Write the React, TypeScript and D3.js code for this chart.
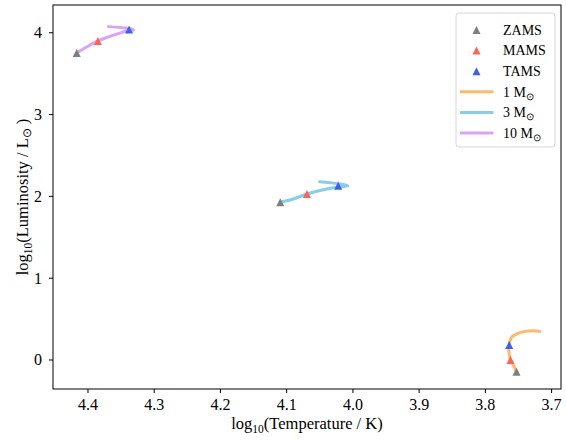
import React from "react";
import * as d3 from "d3";

// ---- data ----
const xTicks = [4.4, 4.3, 4.2, 4.1, 4.0, 3.9, 3.8, 3.7];
const yTicks = [0, 1, 2, 3, 4];

const massLabels = ["1", "3", "10"];
const trackColors = ["#FDB96C", "#88CDEA", "#DCA2F8"];

const track1T = [3.753, 3.7575, 3.762, 3.7645, 3.764, 3.761, 3.752, 3.740, 3.728, 3.7175];
const track1L = [-0.143, -0.067, 0.0, 0.098, 0.183, 0.272, 0.323, 0.350, 0.358, 0.350];

const track3T = [4.1097, 4.090, 4.0694, 4.0463, 4.0222, 4.0116, 4.0075, 4.0166, 4.0342, 4.0504];
const track3L = [1.928, 1.968, 2.029, 2.078, 2.115, 2.124, 2.13, 2.148, 2.167, 2.180];

const track10T = [4.417, 4.402, 4.385, 4.369, 4.351, 4.339, 4.331, 4.336, 4.351, 4.369];
const track10L = [3.753, 3.826, 3.900, 3.949, 3.998, 4.028, 4.035, 4.049, 4.064, 4.075];

const phaseNames = ["ZAMS", "MAMS", "TAMS"];
const phaseColors = ["#7F7F7F", "#FF6352", "#3D63E0"];
// [1 Msun, 3 Msun, 10 Msun] per phase
const phaseT = [
  [3.753, 4.1097, 4.417],
  [3.762, 4.0694, 4.385],
  [3.764, 4.0222, 4.338],
];
const phaseL = [
  [-0.143, 1.928, 3.753],
  [0.0, 2.029, 3.900],
  [0.183, 2.131, 4.040],
];

const W = 566;
const H = 440;
const M = { left: 53, right: 561, top: 5, bottom: 389 };
const FONT = "Liberation Serif";
const TICK_FS = 16;
const LABEL_FS = 16.5;
const SUB_FS = 11.5;
const LEG_FS = 14;

export default function App() {
  const x = d3.scaleLinear().domain([4.4528, 3.6858]).range([M.left, M.right]);
  const y = d3.scaleLinear().domain([-0.3545, 4.3393]).range([M.bottom, M.top]);

  const tracks = [
    { T: track1T, L: track1L },
    { T: track3T, L: track3L },
    { T: track10T, L: track10L },
  ];
  const line = d3
    .line<[number, number]>()
    .x((d) => x(d[0]))
    .y((d) => y(d[1]))
    .curve(d3.curveCatmullRom.alpha(0.5));

  const tri = (cx: number, cy: number, s = 4) =>
    `M${cx},${cy - s}L${cx + s},${cy + s}L${cx - s},${cy + s}Z`;

  const legX = 456;
  const legY = 13;
  const rowY = (i: number) => 30 + i * 20.6;

  return (
    <svg
      width={W}
      height={H}
      style={{ position: "fixed", left: 0, top: 0, background: "#fff" }}
    >
      <rect x={0} y={0} width={W} height={H} fill="#fff" />
      {/* tracks */}
      {tracks.map((t, i) => (
        <path
          key={"t" + i}
          d={line(t.T.map((v, k) => [v, t.L[k]] as [number, number])) || ""}
          fill="none"
          stroke={trackColors[i]}
          strokeWidth={3}
          strokeLinecap="round"
          strokeLinejoin="round"
        />
      ))}
      {/* phase markers */}
      {phaseNames.map((p, i) =>
        phaseT[i].map((tv, k) => (
          <path key={p + k} d={tri(x(tv), y(phaseL[i][k]))} fill={phaseColors[i]} />
        ))
      )}
      {/* frame */}
      <rect
        x={M.left}
        y={M.top}
        width={M.right - M.left}
        height={M.bottom - M.top}
        fill="none"
        stroke="#000"
        strokeWidth={1}
      />
      {/* x ticks */}
      {xTicks.map((t) => (
        <g key={"x" + t}>
          <line x1={x(t)} x2={x(t)} y1={M.bottom} y2={M.bottom + 4} stroke="#000" />
          <text x={x(t)} y={410} textAnchor="middle" fontSize={TICK_FS} fontFamily={FONT}>
            {t.toFixed(1)}
          </text>
        </g>
      ))}
      {/* y ticks */}
      {yTicks.map((t) => (
        <g key={"y" + t}>
          <line x1={M.left - 4} x2={M.left} y1={y(t)} y2={y(t)} stroke="#000" />
          <text x={42} y={y(t) + 5.5} textAnchor="end" fontSize={TICK_FS} fontFamily={FONT}>
            {t}
          </text>
        </g>
      ))}
      {/* axis labels */}
      <text x={(M.left + M.right) / 2} y={429} textAnchor="middle" fontSize={LABEL_FS} fontFamily={FONT}>
        log
        <tspan fontSize={SUB_FS} dy={4}>10</tspan>
        <tspan dy={-4}>(Temperature / K)</tspan>
      </text>
      <text
        transform={`translate(28,${(M.top + M.bottom) / 2}) rotate(-90)`}
        textAnchor="middle"
        fontSize={LABEL_FS}
        fontFamily={FONT}
      >
        log
        <tspan fontSize={SUB_FS} dy={4}>10</tspan>
        <tspan dy={-4}>(Luminosity / L</tspan>
        <tspan fontSize={SUB_FS} dy={3}>⊙</tspan>
        <tspan dy={-3}> )</tspan>
      </text>
      {/* legend */}
      <rect
        x={legX}
        y={legY}
        width={99}
        height={134}
        rx={3}
        fill="#fff"
        fillOpacity={0.8}
        stroke="#D6D6D6"
        strokeWidth={1}
      />
      {phaseNames.map((p, i) => (
        <g key={"lp" + p}>
          <path d={tri(476.5, rowY(i))} fill={phaseColors[i]} />
          <text x={503} y={rowY(i) + 4.8} fontSize={LEG_FS} fontFamily={FONT}>
            {p}
          </text>
        </g>
      ))}
      {massLabels.map((m, i) => (
        <g key={"lm" + m}>
          <line
            x1={460}
            x2={493.5}
            y1={rowY(i + 3)}
            y2={rowY(i + 3)}
            stroke={trackColors[i]}
            strokeWidth={3}
          />
          <text x={503} y={rowY(i + 3) + 4.8} fontSize={LEG_FS} fontFamily={FONT}>
            {m} M
            <tspan fontSize={10} dy={3}>⊙</tspan>
          </text>
        </g>
      ))}
    </svg>
  );
}
